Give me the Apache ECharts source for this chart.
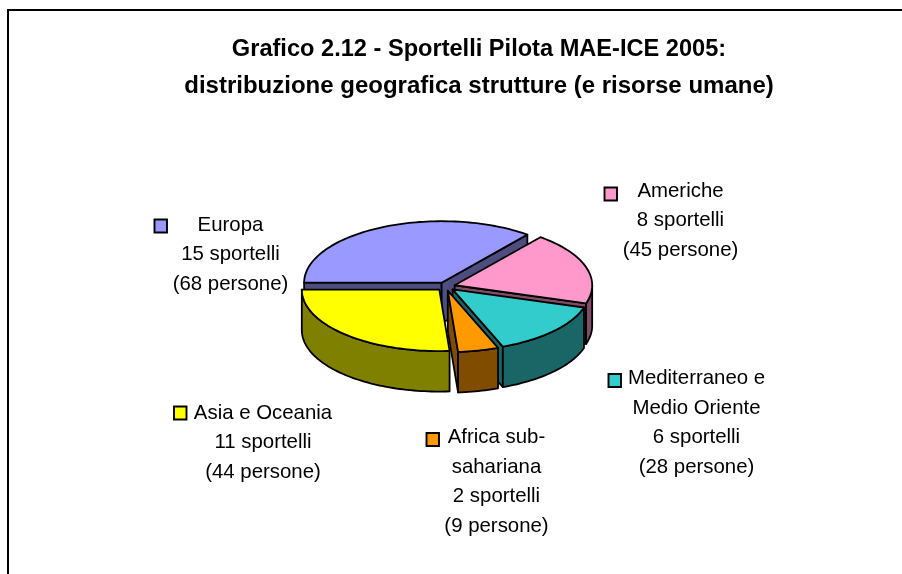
<!DOCTYPE html>
<html>
<head>
<meta charset="utf-8">
<style>html,body{margin:0;padding:0;background:#fff}#c{width:902px;height:574px}</style>
<script src="https://cdn.jsdelivr.net/npm/echarts@6/dist/echarts.min.js"></script>
</head>
<body>
<div id="c"></div>
<script>
var nameLines = [['Europa'], ['Americhe'], ['Mediterraneo e', 'Medio Oriente'], ['Africa sub-', 'sahariana'], ['Asia e Oceania']];
var sportelli = [15, 8, 6, 2, 11];
var persone = [68, 45, 28, 9, 44];
var topColors = ['#9999FF', '#FF99CC', '#33CCCC', '#FF9900', '#FFFF00'];
var sideColors = ['#4D4D80', '#804D66', '#1A6666', '#804D00', '#808000'];
var titleLine1 = 'Grafico 2.12 - Sportelli Pilota MAE-ICE 2005:';
var titleLine2 = 'distribuzione geografica strutture (e risorse umane)';

// layout
var PIE = {cx: 445.7, cy: 286.5, rx: 137.5, ry: 61.5, depth: 40.5, explode: 9.4, startAngle: 270};
var paintOrder = [0, 1, 4, 2, 3];
var labelCenters = [[230.5, 254.5], [680.5, 220.5], [696.5, 423], [496.5, 482], [263, 442.5]];
var keyBoxes = [[154.5, 219.5], [604.5, 187.5], [608.5, 374], [426.5, 433], [174, 406.5]];
var FONT = '"Liberation Sans", Arial, sans-serif';

var total = sportelli.reduce(function (a, b) { return a + b; }, 0);
var RAD = Math.PI / 180;

function renderWedge(params, api) {
  var i = params.dataIndex;
  var before = 0;
  for (var k = 0; k < i; k++) before += sportelli[k];
  var a0 = PIE.startAngle + before / total * 360;
  var a1 = a0 + api.value(0) / total * 360;
  var mid = (a0 + a1) / 2 * RAD;
  var ox = PIE.cx + PIE.explode * Math.sin(mid);
  var oy = PIE.cy - PIE.explode * Math.cos(mid) * PIE.ry / PIE.rx;
  function pt(deg, down) {
    return [ox + PIE.rx * Math.sin(deg * RAD), oy - PIE.ry * Math.cos(deg * RAD) + (down ? PIE.depth : 0)];
  }
  function arc(from, to, down) {
    var n = Math.max(2, Math.ceil(Math.abs(to - from) / 1.5)), out = [];
    for (var s = 0; s <= n; s++) out.push(pt(from + (to - from) * s / n, down));
    return out;
  }
  var z = paintOrder.indexOf(i) * 10 + 1;
  function poly(points, fill, zz) {
    return {type: 'polygon', z2: z + zz, shape: {points: points},
      style: {fill: fill, stroke: '#000', lineWidth: 1.8, lineJoin: 'round'}};
  }
  var apex = [ox, oy], apexD = [ox, oy + PIE.depth];
  var kids = [];
  [[a0, -90], [a1, 90]].forEach(function (c) {
    if (Math.cos((c[0] + c[1]) * RAD) < 0) {
      kids.push(poly([apex, pt(c[0]), pt(c[0], true), apexD], sideColors[i], 0));
    }
  });
  // outer wall: the part of the rim that faces the viewer
  [[90, 270], [450, 630]].forEach(function (w) {
    var f = Math.max(a0, w[0]), t = Math.min(a1, w[1]);
    if (t > f) kids.push(poly(arc(f, t).concat(arc(t, f, true)), sideColors[i], 1));
  });
  kids.push(poly([apex].concat(arc(a0, a1)), topColors[i], 2));

  // key box and label
  var box = keyBoxes[i], lc = labelCenters[i];
  kids.push({type: 'rect', z2: 100, shape: {x: box[0], y: box[1], width: 12.5, height: 13},
    style: {fill: topColors[i], stroke: '#000', lineWidth: 1.9}});
  var lines = nameLines[i].concat([sportelli[i] + ' sportelli', '(' + persone[i] + ' persone)']);
  kids.push({type: 'text', z2: 100, style: {
    text: lines.join('\n'), x: lc[0], y: lc[1], align: 'center', verticalAlign: 'middle',
    fontFamily: FONT, fontSize: 20.4, lineHeight: 29.6, fill: '#000'}});
  return {type: 'group', children: kids};
}

var chart = echarts.init(document.getElementById('c'), null, {renderer: 'canvas'});
chart.setOption({
  animation: false,
  backgroundColor: '#fff',
  title: [{
    text: titleLine1, left: 479, top: 37, textAlign: 'center', padding: 0,
    textStyle: {fontFamily: FONT, fontWeight: 'bold', fontSize: 23.6, color: '#000'}
  }, {
    text: titleLine2, left: 479, top: 74, textAlign: 'center', padding: 0,
    textStyle: {fontFamily: FONT, fontWeight: 'bold', fontSize: 24, color: '#000'}
  }],
  graphic: [{
    type: 'polyline', silent: true, shape: {points: [[8, 574], [8, 10], [902, 10]]},
    style: {stroke: '#000', lineWidth: 2, fill: null}
  }],
  series: [{
    type: 'custom', coordinateSystem: 'none', silent: true, clip: false,
    renderItem: renderWedge,
    data: sportelli.map(function (v, i) { return {name: nameLines[i].join(' '), value: [v]}; })
  }]
});
</script>
</body>
</html>
